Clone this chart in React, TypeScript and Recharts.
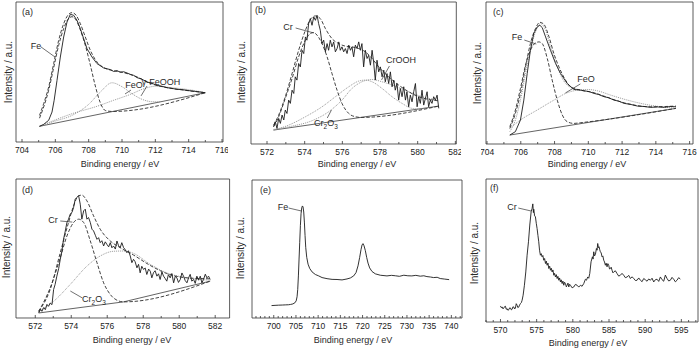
import React from "react";
import { LineChart, Line, XAxis, YAxis, ReferenceArea, ReferenceLine } from "recharts";

type Pt = [number, number];
type Kind = "raw" | "fit" | "comp" | "base";

const FONT = '"Liberation Sans", Arial, Helvetica, sans-serif';

// ---- (a) Fe 2p, sample 1 ----
const aMajor = [704, 706, 708, 710, 712, 714, 716];
const aMinor = [705, 707, 709, 711, 713, 715];
const aRaw: Pt[] = [[705.05,11.2],[705.3,12.6],[705.6,15.5],[705.8,21.4],[705.93,29.8],[706.1,44],[706.3,60.7],[706.5,75],[706.7,85.7],[706.9,91.2],[707.1,90.5],[707.3,86.9],[707.5,81],[707.7,73.8],[707.9,66.7],[708.2,60.7],[708.5,56],[708.9,52.9],[709.3,51.7],[709.5,50.4],[709.7,51],[709.9,49.8],[710.1,50.2],[710.3,49.3],[710.5,48.3],[710.7,47.6],[710.9,46],[711.2,44.8],[711.5,42.9],[711.8,41.9],[712.1,40.5],[712.4,39.8],[712.7,38.8],[713,38.3],[713.3,37.6],[713.6,37.4],[713.9,36.9],[714.2,36.4],[714.5,36],[714.8,35.5],[715,35.2]];
const aFit: Pt[] = [[705.05,19],[705.3,27.4],[705.6,39.3],[705.9,56],[706.2,72.6],[706.5,84.5],[706.75,90.5],[707,92.4],[707.25,90.5],[707.5,84.5],[707.8,75],[708.1,65.5],[708.4,58.8],[708.7,54.8],[709,52.6],[709.5,50.9],[710,49.8],[710.5,48.2],[711,46],[711.5,43],[712,40.7],[712.5,39.3],[713,38.2],[713.5,37.4],[714,36.6],[714.5,35.9],[715,35.2]];
const aFe: Pt[] = [[705.05,17],[705.3,25],[705.6,37],[705.9,53],[706.2,69],[706.5,81],[706.75,87.5],[707,89.5],[707.25,87],[707.5,80],[707.8,69],[708.1,55],[708.4,40],[708.7,28],[709,22.5],[709.4,21.8],[715,35.2]];
const aFeO: Pt[] = [[705.05,11.2],[706,15],[707,19],[708,26.9],[708.7,35.7],[709.4,42.3],[710,39.5],[710.6,34.5],[711.2,30.5],[711.8,28.8],[712.3,28.7]];
const aFeOOH: Pt[] = [[705.05,11.2],[707,20.2],[708.5,25.5],[709.5,29.8],[710.5,34],[711.3,38],[712,39.8],[713,38.8],[714,37.4],[715,35.2]];
const aBase: Pt[] = [[705.05,11.2],[715,35.2]];

// ---- (b) Cr 2p, sample 1 ----
const bMajor = [572, 574, 576, 578, 580, 582];
const bMinor = [573, 575, 577, 579, 581];
const bRaw: Pt[] = [[572.35,12.2],[572.44,15.7],[572.53,11],[572.62,18],[572.71,14.5],[572.8,20.4],[572.89,16.9],[572.97,23.9],[573.06,21.5],[573.15,30.9],[573.24,28.6],[573.33,37.9],[573.42,35.6],[573.5,47.3],[573.59,45],[573.68,56.7],[573.77,54.3],[573.86,66],[573.95,63.7],[574.04,75.4],[574.12,73.1],[574.21,84.8],[574.3,88.3],[574.39,83.6],[574.48,89.5],[574.57,87.1],[574.66,90.6],[574.74,84.8],[574.83,80.1],[574.92,70.7],[575.01,73.1],[575.1,64.9],[575.19,70.7],[575.27,66],[575.36,73.1],[575.45,68.4],[575.54,71.9],[575.63,64.9],[575.72,67.2],[575.81,71.9],[575.89,66],[575.98,68.4],[576.07,64.9],[576.16,67.2],[576.25,63.7],[576.34,69.6],[576.43,66],[576.51,68.4],[576.6,61.4],[576.69,69.6],[576.78,67.2],[576.87,71.9],[576.96,66],[577.04,70.7],[577.13,54.3],[577.22,66],[577.31,60.2],[577.4,62.5],[577.49,55.5],[577.58,66],[577.66,57.8],[577.75,45],[577.84,59],[577.93,50.8],[578.02,54.3],[578.11,47.3],[578.2,52],[578.28,43.8],[578.37,49.6],[578.46,42.6],[578.55,50.8],[578.64,40.3],[578.73,45],[578.81,37.9],[578.9,42.6],[578.99,30.9],[579.08,39.1],[579.17,33.3],[579.26,40.3],[579.35,30.9],[579.43,36.8],[579.52,26.2],[579.61,34.4],[579.7,29.7],[579.79,36.8],[579.88,42.6],[579.97,26.2],[580.05,33.3],[580.14,28.6],[580.23,37.9],[580.32,27.4],[580.41,32.1],[580.5,36.8],[580.58,26.2],[580.67,30.9],[580.76,28.6],[580.85,33.3],[580.94,30.9],[581.03,34.4],[581.12,25.1]];
const bFit: Pt[] = [[572.35,13.3],[572.62,20.4],[572.97,33.3],[573.33,49.6],[573.68,66],[574.04,80.1],[574.3,87.6],[574.57,90.2],[574.83,88.3],[575.1,81.3],[575.45,74.2],[575.81,70.7],[576.16,68.9],[576.51,68.4],[576.87,67.2],[577.22,64.9],[577.58,60.2],[577.93,54.3],[578.46,47.3],[578.99,41.5],[579.52,36.8],[580.05,33.3],[580.58,31.4],[581.12,30.4]];
const bCr: Pt[] = [[572.35,12.2],[572.62,19.2],[572.97,32.1],[573.33,46.1],[573.68,61.4],[574.04,73.1],[574.3,77.8],[574.48,78.5],[574.66,76.6],[574.92,70.7],[575.19,61.4],[575.45,49.6],[575.72,37.9],[575.98,28.6],[576.34,21.5],[576.69,19.2],[576.96,18.7],[581.12,26.7]];
const bCr2O3: Pt[] = [[572.35,9.8],[573.15,13.3],[574.04,19.2],[574.92,26.2],[575.63,33.3],[576.34,40.3],[576.87,44.3],[577.22,45],[577.58,43.8],[578.11,39.1],[578.64,33.3],[579.17,28.6],[579.7,25.1],[580.23,24.6]];
const bCrOOH: Pt[] = [[572.35,10.3],[573.33,12.6],[574.39,16.4],[575.27,22.7],[575.98,30.9],[576.51,39.1],[577.04,43.8],[577.58,45.4],[578.11,43.8],[578.81,40.7],[579.52,36.8],[580.23,33.3],[581.12,30.9]];
const bBase: Pt[] = [[572.35,9.8],[581.12,26.7]];

// ---- (c) Fe 2p, sample 2 ----
const cMajor = [704, 706, 708, 710, 712, 714, 716];
const cMinor = [705, 707, 709, 711, 713, 715];
const cRaw: Pt[] = [[705.35,6.3],[705.68,8.7],[705.98,16.9],[706.18,30.9],[706.38,49.6],[706.57,66],[706.77,77.8],[706.97,82.4],[707.13,83.6],[707.27,82],[707.47,75.4],[707.76,66],[708.06,56.7],[708.36,49.6],[708.75,42.6],[709.15,38.4],[709.5,38],[709.74,37.5],[710.05,36.9],[710.34,35.6],[710.6,34.9],[710.93,33.3],[711.2,32.6],[711.52,30.9],[711.8,30.2],[712.12,28.6],[712.5,27.9],[712.91,26.7],[713.3,26.4],[713.7,25.8],[714.1,26.1],[714.5,25.8],[714.85,26.4],[715.19,26.2]];
const cFit: Pt[] = [[705.35,11],[705.68,21.5],[705.98,35.6],[706.28,54.3],[706.57,70.7],[706.87,81.3],[707.13,85.7],[707.37,84.3],[707.66,75.9],[707.96,63.7],[708.26,54.3],[708.65,45],[708.95,40.3],[709.55,37.9],[710.34,36.1],[710.93,33.7],[712.12,29],[713.7,26.2],[715.19,26.7]];
const cFit2: Pt[] = [[705.35,8.7],[705.68,16.9],[705.98,30.9],[706.28,49.6],[706.57,66],[706.87,78.9],[707.17,84.8],[707.47,80.1],[707.76,68.4],[708.06,57.8],[708.36,48.5],[708.75,41.5],[709.35,38.4]];
const cFe: Pt[] = [[705.35,12.2],[705.68,23.9],[705.98,39.1],[706.28,55.5],[706.57,66],[706.87,71.2],[707.07,71.9],[707.27,70.7],[707.57,60.2],[707.86,45],[708.16,30.9],[708.46,20.4],[708.75,15.7],[709.15,14.5],[709.55,15],[715.19,25.1]];
const cFeO: Pt[] = [[705.35,11],[705.98,16.9],[706.97,23.9],[707.96,30.9],[708.75,36.1],[709.35,37.9],[709.94,38.4],[710.53,37.5],[711.33,34.4],[712.32,30.9],[713.31,28.1],[714.3,26.2],[715.19,25.1]];
const cBase: Pt[] = [[705.35,6.3],[715.19,25.1]];

// ---- (d) Cr 2p, sample 2 ----
const dMajor = [572, 574, 576, 578, 580, 582];
const dMinor = [573, 575, 577, 579, 581];
const dRaw: Pt[] = [[572.19,3.6],[572.3,6.2],[572.37,4.8],[572.47,7.5],[572.56,6],[572.65,9.8],[572.74,8.4],[572.83,10.8],[572.93,9.6],[573.02,20.5],[573.1,24],[573.2,30.1],[573.3,35.5],[573.39,42.2],[573.48,48],[573.57,56.6],[573.66,62],[573.76,68.7],[573.85,71.1],[573.94,74.7],[574.04,75.9],[574.13,79.5],[574.22,85.5],[574.31,86.7],[574.41,88],[574.5,81.9],[574.59,71.1],[574.69,77.1],[574.78,78.3],[574.87,71.1],[574.96,72.3],[575.06,68.7],[575.15,63.9],[575.24,62.7],[575.34,59.5],[575.43,56.6],[575.52,57.8],[575.61,54.2],[575.7,55.6],[575.8,51.8],[575.89,54.8],[575.98,53],[576.08,51.2],[576.17,54.2],[576.26,50.5],[576.35,51.8],[576.45,49.6],[576.54,55.4],[576.63,52],[576.72,50.6],[576.81,54.2],[576.91,50.6],[577,49.2],[577.09,47],[577.18,48.4],[577.28,44.6],[577.37,39.8],[577.46,42.2],[577.55,40.5],[577.65,36.1],[577.74,38.6],[577.83,32.5],[577.92,37.2],[578.02,34.9],[578.11,36],[578.2,31.3],[578.3,35.2],[578.39,33.7],[578.48,28.9],[578.57,32.6],[578.66,34],[578.76,30.1],[578.85,31.8],[578.94,27.7],[579.04,33.1],[579.13,30.1],[579.22,28.4],[579.31,26.5],[579.4,31.2],[579.5,28.9],[579.59,32],[579.69,25.3],[579.78,30],[579.87,28.9],[579.96,25.6],[580.06,27.7],[580.15,32.4],[580.24,30.1],[580.33,27],[580.43,25.3],[580.52,28.9],[580.61,31.4],[580.7,26.5],[580.8,27.7],[580.89,24.9],[580.98,30.1],[581.08,27.2],[581.17,30.1],[581.26,25.3],[581.35,27.7],[581.45,31.5],[581.54,28.9],[581.63,30.1],[581.72,27.7]];
const dFit: Pt[] = [[572.19,4.8],[572.83,20.5],[573.39,47],[573.85,68.7],[574.13,80.7],[574.41,88],[574.59,88.4],[574.87,84.3],[575.24,73.5],[575.61,63.9],[576.17,55.4],[576.72,50.6],[577.46,45.3],[578.39,37.8],[579.31,32],[580.43,28.9],[581.72,28.2]];
const dCr: Pt[] = [[572.19,4.8],[572.83,21.7],[573.39,43.4],[573.76,59],[574.13,68.7],[574.41,71.1],[574.69,68.7],[575.06,55.4],[575.43,39.8],[575.8,25.3],[576.17,16.9],[576.54,12.8],[576.91,11.6],[581.72,26.5]];
const dCr2O3: Pt[] = [[572.19,4.8],[573.02,12],[573.94,24.1],[574.87,37.3],[575.61,44.6],[576.35,48],[576.91,48.2],[577.46,46.5],[578.39,38.6],[579.31,32.5],[580.43,28.9],[581.72,27.2]];
const dBase: Pt[] = [[572.19,3.6],[576.91,11.6],[581.72,26.5]];

// ---- (e) Fe 2p survey ----
const eMajor = [700, 705, 710, 715, 720, 725, 730, 735, 740];
const eMinor = [696,697,698,699,701,702,703,704,706,707,708,709,711,712,713,714,716,717,718,719,721,722,723,724,726,727,728,729,731,732,733,734,736,737,738,739,741,742];
const eRaw: Pt[] = [[699.5,9],[700.5,9.2],[701.1,9.3],[702,9.4],[702.6,9.5],[703.3,9.6],[703.75,9.8],[704.3,10.2],[704.75,11],[705.05,12.4],[705.25,15.4],[705.4,20.7],[705.55,30.5],[705.7,42.7],[705.85,54.9],[706,67.1],[706.15,75.6],[706.3,79.8],[706.45,81.2],[706.6,80.5],[706.75,76.8],[706.9,69.5],[707.05,59.8],[707.2,51.2],[707.43,43.9],[707.73,39],[708.1,35.9],[708.63,33.4],[709.38,31.5],[710.13,30.5],[710.88,29.3],[712,28.5],[713.13,28],[714.25,27.9],[715.38,27.6],[716.5,28.3],[717.25,29],[718,30.5],[718.53,32.9],[718.98,37.8],[719.35,43.9],[719.65,49.5],[719.88,52.9],[720.1,53.9],[720.33,52.4],[720.63,48.8],[720.93,43.9],[721.23,39.8],[721.6,36.3],[722.13,33.7],[722.88,32],[724,31],[725.5,30.5],[726.5,30.9],[727.4,30.6],[728.3,30.2],[729.3,31],[730.2,30.6],[731.1,30.5],[732,30.9],[733,30.3],[733.8,30.6],[734.5,30],[735.3,29.7],[736,29.3],[736.8,29.5],[737.5,28.6],[738.5,28.2],[739.5,27.8]];

// ---- (f) Cr 2p survey ----
const fMajor = [570, 575, 580, 585, 590, 595];
const fMinor = [568,569,571,572,573,574,576,577,578,579,581,582,583,584,586,587,588,589,591,592,593,594,596,597];
const fRaw: Pt[] = [[570,11.2],[570.12,10],[570.23,10.5],[570.35,9.2],[570.46,9.8],[570.58,10.8],[570.69,11],[570.8,8.9],[570.92,9.3],[571.03,8.2],[571.15,8.6],[571.27,9.9],[571.38,9.8],[571.5,8.5],[571.61,8.9],[571.72,10.6],[571.84,10.5],[571.95,9.1],[572.07,9.8],[572.18,12.8],[572.3,11.7],[572.41,10],[572.53,10.5],[572.64,11.8],[572.76,12.9],[572.88,13.5],[572.99,15.2],[573.13,18.7],[573.31,25.7],[573.5,35],[573.68,46.7],[573.87,56.1],[574.05,67.8],[574.24,77.1],[574.37,79.4],[574.47,82.6],[574.55,76.5],[574.6,78.9],[574.72,74.2],[574.83,73.6],[574.95,69],[575.06,65.4],[575.18,60.5],[575.29,56.1],[575.4,50.2],[575.52,46.7],[575.63,47.8],[575.75,45.6],[575.86,46.5],[575.98,43.2],[576.1,44.4],[576.22,40.9],[576.33,42.6],[576.45,39.7],[576.56,41.2],[576.68,37.4],[576.8,39],[576.91,36.2],[577.02,37.6],[577.14,35],[577.25,36.4],[577.37,32.7],[577.48,34],[577.6,31.5],[577.72,33.1],[577.83,30.4],[577.94,31.9],[578.06,29.2],[578.17,30.8],[578.29,28],[578.4,29.5],[578.52,26.9],[578.63,28.6],[578.75,25.7],[578.86,27.8],[578.98,26.9],[579.1,24.6],[579.21,25.7],[579.33,27.2],[579.44,24.5],[579.56,26.4],[579.67,25.7],[579.9,23.9],[580.13,24.5],[580.36,26.3],[580.59,25.7],[580.82,24.4],[581.05,25.7],[581.28,25],[581.51,26.9],[581.74,29.9],[581.88,29.2],[582.06,31.5],[582.2,30.6],[582.34,33.9],[582.52,42.1],[582.71,45.6],[582.8,44],[582.89,49.1],[583,46.2],[583.12,47.2],[583.26,51.4],[583.35,50.2],[583.44,54.9],[583.54,52],[583.63,52.6],[583.72,50.5],[583.81,49.1],[583.92,48.3],[584.04,45.6],[584.15,46.2],[584.27,43.2],[584.38,42],[584.5,39.7],[584.61,41.1],[584.73,38.6],[584.84,40.8],[584.96,39.7],[585.07,37.1],[585.19,37.4],[585.3,38.3],[585.42,36.2],[585.54,34.4],[585.65,35],[585.88,35.8],[586.11,33.9],[586.34,32.1],[586.57,32.7],[586.8,34],[587.03,32.7],[587.26,31],[587.5,31.5],[587.73,32.6],[587.96,30.4],[588.19,31.6],[588.42,30.4],[588.65,29],[588.88,29.2],[589.11,30.8],[589.34,29.2],[589.57,28.2],[589.8,30.4],[590.03,29.5],[590.26,28.5],[590.49,30.1],[590.72,29.2],[590.95,30.6],[591.18,28],[591.41,29.6],[591.64,29.9],[591.87,28.4],[592.1,31.5],[592.33,29.6],[592.56,28.5],[592.79,32.8],[593.02,30.4],[593.25,28.7],[593.48,29.2],[593.71,31.2],[593.94,29.9],[594.17,28.1],[594.4,29.2],[594.63,31],[594.86,30]];

interface Curve { pts: Pt[]; kind: Kind }
interface Box { x: number; y: number; w: number; h: number }
interface Note { text: React.ReactNode; x: number; y: number }
interface PanelCfg {
  tag: string;
  box: Box;
  domain: [number, number];
  major: number[];
  minor: number[];
  curves: Curve[];
  leads: [Pt, Pt][];
  notes: Note[];
  tagPos: [number, number];
  titlePos: [number, number];
  yLabPos: [number, number];
}

const LOOK: Record<Kind, { stroke: string; width: number; dash?: string; type: "linear" | "monotone" }> = {
  raw: { stroke: "#1c1c1c", width: 0.9, type: "linear" },
  fit: { stroke: "#2e2e2e", width: 0.9, dash: "3.5 1.8", type: "monotone" },
  comp: { stroke: "#8c8c8c", width: 0.9, dash: "1 1", type: "monotone" },
  base: { stroke: "#3c3c3c", width: 0.8, type: "linear" },
};

const Cr2O3 = (
  <span>
    Cr<sub style={{ fontSize: 6.5 }}>2</sub>O<sub style={{ fontSize: 6.5 }}>3</sub>
  </span>
);

const panels: PanelCfg[] = [
  {
    tag: "(a)", box: { x: 16, y: 2, w: 207, h: 140 }, domain: [703.64, 716.06],
    major: aMajor, minor: aMinor,
    curves: [
      { pts: aBase, kind: "base" }, { pts: aFeO, kind: "comp" }, { pts: aFeOOH, kind: "comp" },
      { pts: aFe, kind: "fit" }, { pts: aFit, kind: "fit" }, { pts: aRaw, kind: "raw" },
    ],
    leads: [[[705.14, 67.9], [705.98, 60.7]], [[710.54, 37.1], [710.18, 34.3]], [[711.5, 40], [711.14, 32.9]]],
    notes: [{ text: "Fe", x: 36, y: 46 }, { text: "FeO", x: 134, y: 85 }, { text: "γ-FeOOH", x: 161, y: 82 }],
    tagPos: [22, 11.5], titlePos: [120, 164], yLabPos: [9, 72],
  },
  {
    tag: "(b)", box: { x: 250.7, y: 2, w: 205.3, h: 142 }, domain: [571.15, 582.05],
    major: bMajor, minor: bMinor,
    curves: [
      { pts: bBase, kind: "base" }, { pts: bCr2O3, kind: "comp" }, { pts: bCrOOH, kind: "comp" },
      { pts: bCr, kind: "fit" }, { pts: bFit, kind: "fit" }, { pts: bRaw, kind: "raw" },
    ],
    leads: [[[573.52, 81.7], [574.48, 78.2]], [[578.5, 54.9], [578.08, 45.1]], [[575.2, 18.3], [575.42, 23.9]]],
    notes: [{ text: "Cr", x: 288, y: 27 }, { text: "CrOOH", x: 401, y: 60 }, { text: Cr2O3, x: 326, y: 125 }],
    tagPos: [255, 10], titlePos: [357, 164], yLabPos: [242, 72],
  },
  {
    tag: "(c)", box: { x: 485.7, y: 2, w: 207, h: 142 }, domain: [703.94, 716.2],
    major: cMajor, minor: cMinor,
    curves: [
      { pts: cBase, kind: "base" }, { pts: cFeO, kind: "comp" }, { pts: cFit2, kind: "comp" },
      { pts: cFe, kind: "fit" }, { pts: cFit, kind: "fit" }, { pts: cRaw, kind: "raw" },
    ],
    leads: [[[706.21, 73.2], [706.92, 70.4]], [[709.53, 42.3], [708.64, 35.9]]],
    notes: [{ text: "Fe", x: 517, y: 37 }, { text: "FeO", x: 586, y: 79 }],
    tagPos: [493, 12], titlePos: [587, 164], yLabPos: [478, 73],
  },
  {
    tag: "(d)", box: { x: 15.7, y: 179, w: 213.6, h: 139 }, domain: [570.93, 582.8],
    major: dMajor, minor: dMinor,
    curves: [
      { pts: dBase, kind: "base" }, { pts: dCr2O3, kind: "comp" },
      { pts: dCr, kind: "fit" }, { pts: dFit, kind: "fit" }, { pts: dRaw, kind: "raw" },
    ],
    leads: [[[573.39, 69.8], [574.06, 69]], [[574.62, 14.4], [573.95, 19.4]]],
    notes: [{ text: "Cr", x: 53, y: 220 }, { text: Cr2O3, x: 94, y: 301 }],
    tagPos: [22, 190], titlePos: [132, 340], yLabPos: [7, 247],
  },
  {
    tag: "(e)", box: { x: 251.7, y: 180, w: 210, h: 138 }, domain: [695.1, 742.4],
    major: eMajor, minor: eMinor,
    curves: [{ pts: eRaw, kind: "raw" }],
    leads: [[[703.35, 79.7], [706.28, 77.5]]],
    notes: [{ text: "Fe", x: 283, y: 207 }],
    tagPos: [260, 190], titlePos: [353, 340], yLabPos: [241, 248],
  },
  {
    tag: "(f)", box: { x: 485.7, y: 179, w: 212, h: 143 }, domain: [568, 597.3],
    major: fMajor, minor: fMinor,
    curves: [{ pts: fRaw, kind: "raw" }],
    leads: [[[572.46, 79.7], [574.26, 77.6]]],
    notes: [{ text: "Cr", x: 512, y: 207 }],
    tagPos: [490, 188], titlePos: [588, 343], yLabPos: [475, 253],
  },
];

const txt: React.CSSProperties = {
  position: "absolute",
  fontFamily: FONT,
  fontSize: 9,
  color: "#2a2a2a",
  lineHeight: 1,
  whiteSpace: "nowrap",
};

function Panel({ cfg }: { cfg: PanelCfg }) {
  const { box, domain } = cfg;
  const pad = 5;
  const axisY = pad + box.h;
  const majorSet = new Set(cfg.major);
  const ticks = [...cfg.major, ...cfg.minor].sort((a, b) => a - b);

  const renderTick = (p: any) => {
    const v = p.payload.value;
    const isMajor = majorSet.has(v);
    return (
      <g>
        <line x1={p.x} x2={p.x} y1={axisY} y2={axisY - (isMajor ? 3 : 2)} stroke="#333" strokeWidth={0.8} />
        {isMajor && (
          <text x={p.x} y={axisY + 11} textAnchor="middle" fontSize={8.5} fill="#222" fontFamily={FONT}>
            {v}
          </text>
        )}
      </g>
    );
  };

  return (
    <>
      <div style={{ position: "absolute", left: box.x - pad, top: box.y - pad }}>
        <LineChart
          width={box.w + 2 * pad}
          height={box.h + pad + 20}
          margin={{ top: pad, right: pad, bottom: 0, left: pad }}
        >
          <XAxis
            type="number"
            dataKey="x"
            domain={domain}
            ticks={ticks}
            interval={0}
            allowDataOverflow
            axisLine={false}
            tickLine={false}
            tickSize={0}
            tickMargin={0}
            tick={renderTick}
            height={20}
          />
          <YAxis type="number" domain={[0, 100]} hide allowDataOverflow />
          <ReferenceArea
            x1={domain[0]}
            x2={domain[1]}
            y1={0}
            y2={100}
            fill="none"
            stroke="#333"
            strokeWidth={0.8}
            ifOverflow="visible"
          />
          {cfg.curves.map((c, i) => {
            const s = LOOK[c.kind];
            return (
              <Line
                key={i}
                data={c.pts.map(([x, y]) => ({ x, y }))}
                dataKey="y"
                type={s.type}
                stroke={s.stroke}
                strokeWidth={s.width}
                strokeDasharray={s.dash}
                dot={false}
                activeDot={false}
                isAnimationActive={false}
              />
            );
          })}
          {cfg.leads.map(([a, b], i) => (
            <ReferenceLine
              key={"lead" + i}
              segment={[{ x: a[0], y: a[1] }, { x: b[0], y: b[1] }]}
              stroke="#333"
              strokeWidth={0.7}
              ifOverflow="visible"
            />
          ))}
        </LineChart>
      </div>
      <div style={{ ...txt, left: cfg.tagPos[0], top: cfg.tagPos[1], transform: "translateY(-50%)" }}>{cfg.tag}</div>
      <div style={{ ...txt, left: cfg.titlePos[0], top: cfg.titlePos[1], transform: "translate(-50%, -50%)" }}>
        Binding energy / eV
      </div>
      <div
        style={{
          ...txt,
          fontSize: 10,
          left: cfg.yLabPos[0],
          top: cfg.yLabPos[1],
          transform: "translate(-50%, -50%) rotate(-90deg)",
        }}
      >
        Intensity / a.u.
      </div>
      {cfg.notes.map((n, i) => (
        <div key={i} style={{ ...txt, left: n.x, top: n.y, transform: "translate(-50%, -50%)" }}>
          {n.text}
        </div>
      ))}
    </>
  );
}

export default function App() {
  return (
    <div style={{ position: "absolute", left: 0, top: 0, width: 700, height: 352, background: "#fff", overflow: "hidden" }}>
      {panels.map((p) => (
        <Panel key={p.tag} cfg={p} />
      ))}
    </div>
  );
}
